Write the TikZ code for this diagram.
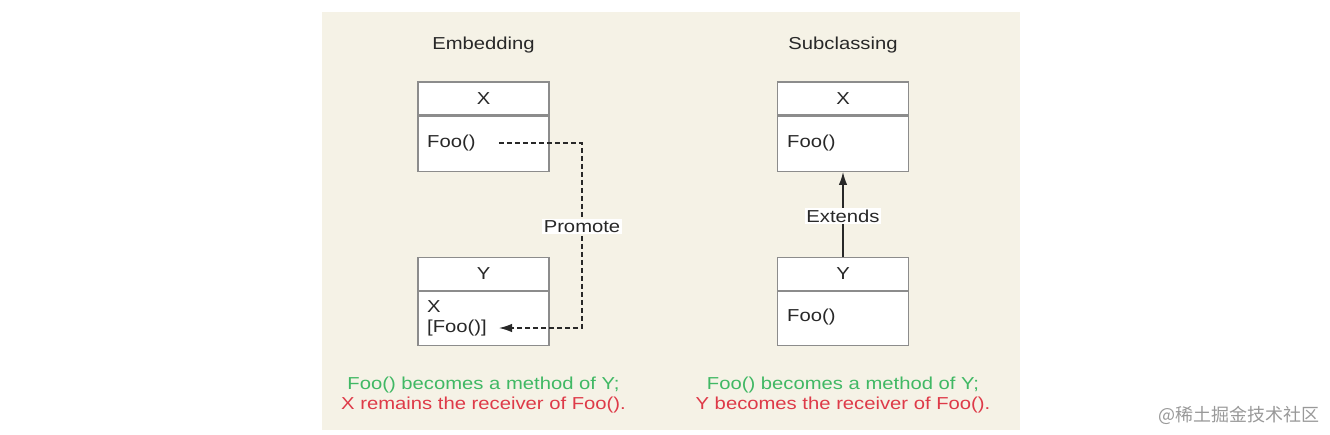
\documentclass[tikz,border=0pt]{standalone}
\usepackage{fontspec}
\setmainfont{Liberation Sans}[FakeStretch=1.17]
\newfontfamily\cjk{Noto Sans CJK SC}
\usetikzlibrary{positioning,arrows.meta}
\definecolor{bgcream}{RGB}{245,242,230}
\definecolor{boxgray}{RGB}{140,140,140}
\definecolor{txtdark}{RGB}{40,40,40}
\definecolor{capgreen}{RGB}{64,184,100}
\definecolor{capred}{RGB}{222,58,72}
\tikzset{>={Latex[length=13pt,width=8.5pt]},
  head/.style={draw=boxgray,fill=white,line width=1.3pt,minimum width=131pt,minimum height=33pt,
    font=\fontsize{17.3}{21}\selectfont,text=txtdark},
  body/.style={draw=boxgray,fill=white,line width=1.3pt,minimum width=131pt,minimum height=55pt},
  member/.style={anchor=west,inner sep=0pt,font=\fontsize{17.3}{21}\selectfont,text=txtdark},
  title/.style={font=\fontsize{17.3}{21}\selectfont,text=txtdark},
  lbl/.style={fill=white,inner sep=1.5pt,font=\fontsize{17.3}{21}\selectfont,text=txtdark},
  caption/.style={font=\fontsize{17.3}{21}\selectfont}
}

\begin{document}
\begin{tikzpicture}[x=1pt,y=-1pt]
  \useasboundingbox (0,0) rectangle (1330,434);
  \fill[bgcream] (322,12) rectangle (1020,430);
  % embedding
  \node[title] (tEmb) at (483.5,45) {Embedding};
  \node[head] (xL) at (483.5,98.5) {X};
  \node[body,below=0pt of xL] (xLb) {};
  \node[member] (fooX) at (427,143) {Foo()};
  \node[head] (yL) at (483.5,274) {Y};
  \node[body,below=0pt of yL,minimum height=54pt] (yLb) {};
  \node[member] (memX) at (427,307) {X};
  \node[member] (fooY) at (427,328) {[Foo()]};
  \coordinate (bend) at (582,0);
  \draw[->,dash pattern=on 5pt off 3pt,line width=1.3pt,txtdark] ([xshift=23pt]fooX.east) -- (fooX.east -| bend)
    -- node[lbl,pos=0.45] (promote) {Promote} (fooY.east -| bend) -- ([xshift=12pt]fooY.east);
  \node[caption,text=capgreen] (capL1) at (483.5,385) {Foo() becomes a method of Y;};
  \node[caption,text=capred] (capL2) at (483.5,405) {X remains the receiver of Foo().};
  % subclassing
  \node[title] (tSub) at (843,45) {Subclassing};
  \node[head] (xR) at (843,98.5) {X};
  \node[body,below=0pt of xR] (xRb) {};
  \node[member] (fooXR) at (787,143) {Foo()};
  \node[head] (yR) at (843,274) {Y};
  \node[body,below=0pt of yR,minimum height=54pt] (yRb) {};
  \node[member] (fooYR) at (787,317) {Foo()};
  \draw[->,line width=1.4pt,txtdark] (yR.north) -- node[lbl,pos=0.48] (extends) {Extends} (xRb.south);
  \node[caption,text=capgreen] (capR1) at (843,385) {Foo() becomes a method of Y;};
  \node[caption,text=capred] (capR2) at (843,405) {Y becomes the receiver of Foo().};
  % watermark
  \node[anchor=east,text=black!40,font=\cjk\fontsize{18}{20}\selectfont] (mark) at (1323,415) {@稀土掘金技术社区};
\end{tikzpicture}
\end{document}
